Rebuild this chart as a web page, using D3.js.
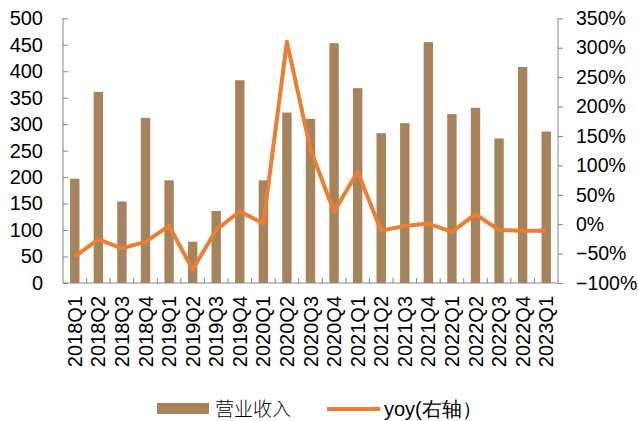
<!DOCTYPE html>
<html>
<head>
<meta charset="utf-8">
<script src="https://cdn.jsdelivr.net/npm/d3@7"></script>
<style>
  html, body { margin: 0; padding: 0; background: #fff; }
  svg { display: block; }
  text { font-family: "Liberation Sans", Arial, sans-serif; fill: #000; }
</style>
</head>
<body>
<svg id="chart" width="638" height="421"></svg>
<script>
// Quarterly revenue (left axis) and year-on-year growth (right axis)
const quarters = ["2018Q1","2018Q2","2018Q3","2018Q4","2019Q1","2019Q2","2019Q3","2019Q4",
  "2020Q1","2020Q2","2020Q3","2020Q4","2021Q1","2021Q2","2021Q3","2021Q4",
  "2022Q1","2022Q2","2022Q3","2022Q4","2023Q1"];
const revenue = [197, 361, 154, 312, 194, 78, 136, 383, 194, 322, 310, 453, 368, 283, 302, 455,
  319, 331, 273, 408, 286];
const yoy = [-0.55, -0.26, -0.41, -0.30, -0.03, -0.77, -0.10, 0.22, 0.01, 3.10, 1.27, 0.21,
  0.89, -0.11, -0.03, 0.01, -0.13, 0.17, -0.10, -0.11, -0.11];
const leftTicks = [0, 50, 100, 150, 200, 250, 300, 350, 400, 450, 500];
const rightTicks = [-1, -0.5, 0, 0.5, 1, 1.5, 2, 2.5, 3, 3.5];
const legendLabels = ["营业收入", "yoy(右轴）"];

const barColor = "#A6835B";
const lineColor = "#ED7D31";
const axisColor = "#868686";

const svg = d3.select("#chart");
const plotLeft = 63, plotRight = 558, plotTop = 18.3, plotBottom = 283;

const xb = d3.scaleBand().domain(quarters).range([plotLeft, plotRight]);
const yL = d3.scaleLinear().domain([0, 500]).range([plotBottom, plotTop]);
const yR = d3.scaleLinear().domain([-1, 3.5]).range([plotBottom, plotTop]);
const barW = 9.4;

// bars
svg.append("g").selectAll("rect").data(revenue).join("rect")
  .attr("x", (d, i) => xb(quarters[i]) + xb.bandwidth() / 2 - barW / 2)
  .attr("width", barW)
  .attr("y", d => yL(d))
  .attr("height", d => yL(0) - yL(d))
  .attr("fill", barColor);

// left axis
const gL = svg.append("g").attr("transform", `translate(${plotLeft},0)`)
  .call(d3.axisLeft(yL).tickValues(leftTicks).tickSize(-5).tickPadding(20).tickFormat(d3.format("d")));
gL.select(".domain").attr("stroke", axisColor).attr("d", `M0,${plotTop}V${plotBottom}`);
gL.selectAll(".tick line").attr("stroke", axisColor);
gL.selectAll(".tick text").style("font-size", "20px").attr("fill", "#000");

// right axis
const gR = svg.append("g").attr("transform", `translate(${plotRight},0)`)
  .call(d3.axisRight(yR).tickValues(rightTicks).tickSize(5).tickPadding(13).tickFormat(d3.format(".0%")));
gR.select(".domain").attr("stroke", axisColor).attr("d", `M0,${plotTop}V${plotBottom}`);
gR.selectAll(".tick line").attr("stroke", axisColor);
gR.selectAll(".tick text").style("font-size", "19.5px").attr("fill", "#000");

// bottom axis with boundary ticks between quarters
const gB = svg.append("g").attr("transform", `translate(0,${plotBottom})`);
gB.append("line").attr("x1", plotLeft).attr("x2", plotRight).attr("stroke", axisColor);
gB.selectAll("line.sep").data(quarters.slice(1)).join("line")
  .attr("class", "sep")
  .attr("x1", d => xb(d)).attr("x2", d => xb(d))
  .attr("y1", 0).attr("y2", -5).attr("stroke", axisColor);
gB.selectAll("text").data(quarters).join("text")
  .attr("transform", d => `translate(${xb(d) + xb.bandwidth() / 2},13) rotate(-90)`)
  .attr("text-anchor", "end")
  .attr("dy", "0.35em")
  .style("font-size", "20px")
  .text(d => d);

// yoy line
const line = d3.line()
  .x((d, i) => xb(quarters[i]) + xb.bandwidth() / 2)
  .y(d => yR(d));
svg.append("path").datum(yoy)
  .attr("d", line)
  .attr("fill", "none")
  .attr("stroke", lineColor)
  .attr("stroke-width", 4)
  .attr("stroke-linejoin", "round");

// legend
const lg = svg.append("g");
lg.append("rect").attr("x", 157).attr("y", 403).attr("width", 52).attr("height", 11).attr("fill", barColor);
lg.append("text").attr("x", 215).attr("y", 409).attr("dy", "0.35em")
  .style("font-family", "'Noto Sans CJK SC', sans-serif").style("font-size", "19px").style("font-weight", 300)
  .text(legendLabels[0]);
lg.append("line").attr("x1", 327).attr("x2", 380).attr("y1", 409).attr("y2", 409)
  .attr("stroke", lineColor).attr("stroke-width", 4);
lg.append("text").attr("x", 384).attr("y", 409).attr("dy", "0.35em")
  .style("font-size", "20px")
  .text(legendLabels[1]);
</script>
</body>
</html>
